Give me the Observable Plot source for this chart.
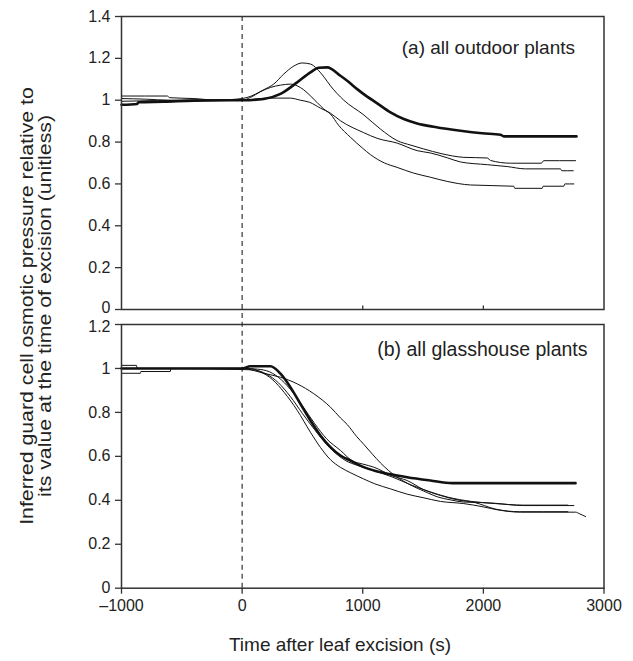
<!DOCTYPE html>
<html>
<head>
<meta charset="utf-8">
<script src="https://cdn.jsdelivr.net/npm/d3@7"></script>
<script src="https://cdn.jsdelivr.net/npm/@observablehq/plot@0.6"></script>
<style>
  html, body { margin: 0; padding: 0; background: #fff; }
  #fig { position: relative; width: 633px; height: 661px; font-family: "Liberation Sans", Arial, sans-serif; color: #222; overflow: hidden; }
  #fig svg { position: absolute; left: 0; overflow: visible; }
  .ytitle { position: absolute; left: 36px; top: 306px; width: 520px; text-align: center; font-size: 19px; line-height: 18px; transform: translate(-50%, -50%) rotate(-90deg) scaleX(1.12); white-space: nowrap; }
  .xtitle { position: absolute; left: 340px; top: 645px; font-size: 19px; transform: translate(-50%, -50%); white-space: nowrap; }
</style>
</head>
<body>
<div id="fig"></div>
<script>
// ---------- data ----------
const xTicks = [-1000, 0, 1000, 2000, 3000];
const yTicksTop = [0, 0.2, 0.4, 0.6, 0.8, 1, 1.2, 1.4];
const yTicksBottom = [0, 0.2, 0.4, 0.6, 0.8, 1, 1.2];
const panelLabels = ["(a) all outdoor plants", "(b) all glasshouse plants"];
const xTitle = "Time after leaf excision (s)";
const yTitleLines = ["Inferred guard cell osmotic pressure relative to", "its value at the time of excision (unitless)"];

// (a) outdoor plants — [time (s), relative pressure]
const outdoorThick = [[-1000,0.978],[-870,0.982],[-860,0.99],[-650,0.993],[-400,0.998],[-100,1.0],[0,1.0],[180,1.006],[318,1.03],[456,1.085],[566,1.133],[635,1.155],[705,1.157],[815,1.117],[871,1.093],[954,1.053],[1008,1.029],[1120,0.985],[1230,0.942],[1340,0.91],[1451,0.889],[1600,0.872],[1810,0.854],[1990,0.842],[2142,0.835],[2169,0.827],[2772,0.827]];
const outdoorPeakHigh = [[-1000,1.02],[-620,1.02],[-600,1.012],[-400,1.008],[-200,1.0],[-50,1.005],[0,1.008],[41,1.013],[179,1.05],[262,1.077],[345,1.125],[428,1.163],[497,1.178],[566,1.173],[622,1.149],[680,1.11],[732,1.069],[843,1.0],[1008,0.93],[1147,0.862],[1285,0.807],[1400,0.785],[1506,0.767],[1650,0.745],[1838,0.727],[2032,0.724],[2060,0.712],[2225,0.699],[2480,0.699],[2500,0.711],[2764,0.711]];
const outdoorPeakLow = [[-1000,1.008],[-800,1.005],[-600,1.0],[0,1.0],[69,1.013],[150,1.04],[235,1.061],[318,1.072],[400,1.077],[456,1.069],[510,1.05],[566,1.021],[620,0.99],[677,0.958],[732,0.934],[800,0.88],[898,0.823],[1000,0.77],[1064,0.74],[1180,0.7],[1285,0.679],[1420,0.652],[1561,0.632],[1700,0.612],[1893,0.595],[2252,0.589],[2260,0.579],[2488,0.579],[2495,0.589],[2667,0.589],[2675,0.6],[2750,0.6]];
const outdoorFlat = [[-1000,0.995],[-700,0.998],[-400,1.0],[0,1.0],[100,1.005],[200,1.01],[400,1.01],[483,1.0],[560,0.99],[649,0.962],[732,0.938],[815,0.902],[1008,0.845],[1119,0.818],[1285,0.795],[1451,0.759],[1561,0.748],[1700,0.725],[1810,0.705],[2032,0.692],[2197,0.683],[2349,0.672],[2639,0.672],[2650,0.663],[2745,0.663]];

// (b) glasshouse plants
const glassThick = [[-1000,1.0],[-500,1.0],[0,1.0],[69,1.01],[235,1.01],[318,0.976],[400,0.915],[483,0.839],[566,0.763],[649,0.695],[732,0.642],[815,0.604],[900,0.58],[1008,0.551],[1091,0.536],[1285,0.513],[1368,0.505],[1561,0.49],[1741,0.478],[2764,0.478]];
const glassSlow = [[-1000,1.014],[-876,1.014],[-870,1.0],[0,1.0],[100,0.99],[179,0.978],[318,0.96],[456,0.93],[594,0.885],[732,0.824],[815,0.775],[871,0.745],[950,0.69],[1008,0.655],[1080,0.61],[1147,0.57],[1285,0.505],[1368,0.478],[1451,0.455],[1534,0.435],[1617,0.416],[1727,0.402],[1838,0.392],[1976,0.39],[2086,0.387],[2335,0.376],[2750,0.376]];
const glassFast = [[-1000,1.0],[0,1.0],[80,0.998],[150,0.985],[250,0.95],[350,0.89],[456,0.81],[566,0.71],[650,0.64],[732,0.585],[815,0.55],[900,0.525],[1008,0.497],[1100,0.475],[1230,0.452],[1368,0.428],[1500,0.412],[1644,0.395],[1838,0.385],[2000,0.37],[2114,0.357],[2308,0.346],[2764,0.346],[2800,0.338],[2847,0.326]];
const glassMidA = [[-1000,0.978],[-843,0.978],[-840,0.986],[-596,0.986],[-590,1.0],[0,0.995],[100,0.993],[200,0.975],[300,0.935],[400,0.872],[500,0.795],[600,0.722],[700,0.655],[800,0.603],[860,0.58],[950,0.56],[1091,0.535],[1250,0.505],[1400,0.47],[1550,0.44],[1700,0.415],[1900,0.395],[2100,0.385],[2335,0.378],[2700,0.378]];
const glassMidB = [[-1000,1.0],[0,1.0],[100,0.998],[200,0.99],[300,0.96],[400,0.905],[500,0.83],[600,0.75],[700,0.68],[815,0.627],[912,0.58],[1000,0.565],[1091,0.551],[1250,0.51],[1368,0.49],[1500,0.45],[1644,0.422],[1800,0.4],[1920,0.391],[2100,0.36],[2300,0.348],[2700,0.348]];

// ---------- drawing ----------
const FONT = '"Liberation Sans", Arial, sans-serif';
const fmtY = d => String(Math.round(d * 10) / 10);
const fmtX = d => d < 0 ? "\u2013" + (-d) : String(d);
const AX = "#333";
const yAxisOpts = {tickSize: 6, tickPadding: 5, label: null, stroke: AX, strokeWidth: 1.3, fontSize: 16};

function lineMarks(series, widths) {
  return series.map((s, i) => Plot.line(s, {x: d => d[0], y: d => d[1], stroke: "#111", strokeWidth: widths[i], curve: "monotone-x", clip: false}));
}
// the labels of the two ticks that meet at the panel gap are nudged apart slightly
function edgeLabel(values, dy) {
  return Plot.text(values, {y: d => d, text: fmtY, frameAnchor: "left", dx: -11, dy, textAnchor: "end", lineAnchor: "middle", fontSize: 16, fill: "currentColor"});
}

const fig = document.getElementById("fig");

const topPlot = Plot.plot({
  width: 633, height: 318,
  marginLeft: 121, marginRight: 29.5, marginTop: 16, marginBottom: 9,
  x: {domain: [-1000, 3000], axis: null},
  y: {domain: [0, 1.4], axis: null},
  style: {fontFamily: FONT, fontSize: "16px", color: "#222", background: "transparent"},
  marks: [
    Plot.axisY(yTicksTop, {...yAxisOpts, tickFormat: d => d === 0 ? "" : fmtY(d)}),
    edgeLabel(yTicksTop.filter(d => d === 0), -2),
    Plot.ruleX([1000, 2000], {y1: 0, y2: 0.017, stroke: AX, strokeWidth: 1.3}),
    Plot.ruleX([0], {y1: -0.043, y2: 1.4, stroke: "#222", strokeWidth: 1.1, strokeDasharray: "5,4", clip: false}),
    ...lineMarks([outdoorPeakHigh, outdoorPeakLow, outdoorFlat, outdoorThick], [1, 1, 1, 2.6]),
    Plot.frame({stroke: AX, strokeWidth: 1.5}),
    Plot.text([panelLabels[0]], {frameAnchor: "top-right", dx: -29, dy: 31, lineAnchor: "middle", textAnchor: "end", fontSize: 19, fill: "#222"})
  ]
});
topPlot.style.top = "0px";
fig.appendChild(topPlot);

const bottomPlot = Plot.plot({
  width: 633, height: 343,
  marginLeft: 121, marginRight: 29.5, marginTop: 6, marginBottom: 73.3,
  x: {domain: [-1000, 3000], axis: null},
  y: {domain: [0, 1.2], axis: null},
  style: {fontFamily: FONT, fontSize: "16px", color: "#222", background: "transparent"},
  marks: [
    Plot.axisY(yTicksBottom, {...yAxisOpts, tickFormat: d => d >= 1.2 ? "" : fmtY(d)}),
    edgeLabel(yTicksBottom.filter(d => d >= 1.2), 2),
    Plot.axisX(xTicks, {tickSize: 6, tickPadding: 5, tickFormat: fmtX, label: null, stroke: AX, strokeWidth: 1.3, fontSize: 16}),
    Plot.ruleX([0], {y1: 0, y2: 1.228, stroke: "#222", strokeWidth: 1.1, strokeDasharray: "5,4", clip: false}),
    ...lineMarks([glassSlow, glassFast, glassMidA, glassMidB, glassThick], [1, 1, 1, 1, 2.6]),
    Plot.frame({stroke: AX, strokeWidth: 1.5}),
    Plot.text([panelLabels[1]], {frameAnchor: "top-right", dx: -16.5, dy: 25, lineAnchor: "middle", textAnchor: "end", fontSize: 19.5, fill: "#222"})
  ]
});
bottomPlot.style.top = "318px";
fig.appendChild(bottomPlot);

const yt = document.createElement("div");
yt.className = "ytitle";
yt.innerHTML = yTitleLines.map(s => `<div>${s}</div>`).join("");
fig.appendChild(yt);

const xt = document.createElement("div");
xt.className = "xtitle";
xt.textContent = xTitle;
fig.appendChild(xt);
</script>
</body>
</html>
